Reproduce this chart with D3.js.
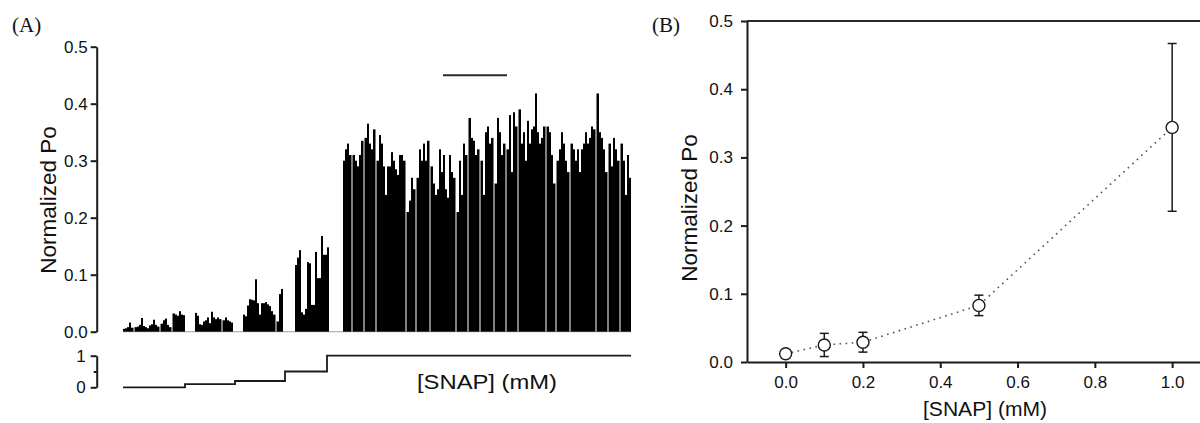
<!DOCTYPE html>
<html>
<head>
<meta charset="utf-8">
<script src="https://cdn.jsdelivr.net/npm/d3@7"></script>
<style>
  html, body { margin: 0; padding: 0; background: #fff; }
  svg { display: block; }
  text { font-family: "Liberation Sans", Arial, sans-serif; fill: #111; }
  .panel-label { font-family: "Liberation Serif", "Times New Roman", serif; }
</style>
</head>
<body>
<svg id="chart" width="1200" height="423"></svg>
<script>
// ---------------- DATA ----------------
// Panel A: normalized Po per time bin (null = gap between sweeps / recordings)
const poTrace = [
  // 0 mM SNAP
  0.005,0.006,0.008,0.016,0.007,null, 0.008,0.009,0.012,0.024,0.010,0.008,
  0.006,0.011,0.013,0.021,0.012,0.009, null,0.014,0.020,0.023,0.012,0.008,
  null,0.032,0.030,0.028,0.036,0.030,0.029,
  null,null,null,null,null,
  // 0.1 mM
  0.033,0.028,0.013,0.012,0.018,0.020,0.025,0.015,0.035,0.025,0.022,0.025,0.022,null,0.020,0.025,0.020,0.018,0.016,
  null,null,null,null,null,
  // 0.2 mM
  0.030,0.027,0.046,0.057,0.056,0.055,0.092,0.050,0.030,0.050,0.050,0.052,0.048,0.045,0.036,0.030,null,0.018,0.066,0.075,
  null,null,null,null,null,null,
  // 0.5 mM
  0.117,0.130,0.143,0.034,0.030,0.040,0.122,0.120,0.047,0.047,0.140,0.094,0.094,0.168,0.135,0.135,0.148,
  null,null,null,null,null,null,null,
  // 1.0 mM
  0.30,0.32,0.33,0.31, null,
  0.31,0.30,0.29,0.31,0.335, null,
  0.34,0.365,0.33,0.32,0.355, null,
  0.30,0.345,0.33,0.29,0.24,0.29,0.29,0.315,0.30,0.285,0.275,0.31,0.31,0.30, null,
  0.21,0.23,0.27,0.25, null,
  0.27,0.32,0.30,0.33,0.30,0.335, null,
  0.29,0.26,0.24,0.25,0.32,0.28,0.31,0.25,0.235,0.31,0.28,0.27, null,
  0.21,0.30,0.24,0.33,0.31, null,
  0.375,0.34,0.335,0.31,0.32, null,
  0.30,0.24,0.35,0.36,0.33,0.34, null,
  0.26,0.375,0.35,0.31,0.33, null,
  0.32,0.38,0.28,0.385,0.36, null,
  0.39,0.33,0.35,0.30,0.37,0.33,0.355,0.36,0.418,0.35,0.33,0.34,0.36, null,
  0.36,0.35,0.31,0.26, null,
  0.30,0.32,0.35,0.33,0.30,0.28, null,
  0.33,0.32,0.30,0.32,0.28,0.32,0.33,0.35,0.33,0.34,0.36,0.355, null,
  0.418,0.35,0.34,0.32,0.28, null,
  0.33,0.29,0.34,0.32,0.30, null,
  0.33,0.30,0.24,0.31,0.27
];
// SNAP concentration protocol (bin where each concentration starts)
const snapStepBins = [0, 31, 56, 81, 102, 254];
const snapStepConc = [0, 0.1, 0.2, 0.5, 1.0, 1.0];
// annotation bar above the trace (bin span, level)
const markerSpan = [160, 192];
const markerLevel = 0.45;
const yTicksA = [0, 0.1, 0.2, 0.3, 0.4, 0.5];
const stepTicks = [0, 0.5, 1];
const stepTickLabels = ["0", "", "1"];

// Panel B: dose-response
const concB = [0.0, 0.1, 0.2, 0.5, 1.0];
const meanB = [0.012, 0.025, 0.029, 0.083, 0.344];
const errB  = [0.006, 0.017, 0.0145, 0.015, 0.123];
const xTicksB = [0, 0.2, 0.4, 0.6, 0.8, 1.0];
const yTicksB = [0, 0.1, 0.2, 0.3, 0.4, 0.5];

// ---------------- DRAW ----------------
const svg = d3.select("#chart");
const axisColor = "#1a1a1a";

function styleAxis(g, width) {
  g.selectAll("path.domain").attr("stroke", axisColor).attr("stroke-width", width);
  g.selectAll(".tick line").attr("stroke", axisColor).attr("stroke-width", width);
  g.selectAll(".tick text").attr("font-size", 17).attr("fill", "#111")
    .attr("font-family", "'Liberation Sans', Arial, sans-serif");
}

// ===== Panel A =====
const xA = d3.scaleLinear().domain([0, poTrace.length]).range([123, 631]);
const yA = d3.scaleLinear().domain([0, 0.5]).range([331.7, 46.7]);
const axAx = 96.7;

// baseline
svg.append("line")
  .attr("x1", xA(0)).attr("x2", xA(poTrace.length))
  .attr("y1", yA(0)).attr("y2", yA(0))
  .attr("stroke", "#b5b5b5").attr("stroke-width", 1.2);

// bars: a single-bin gap (sweep separator) is drawn as a thin sliver only
const isSingleGap = i => poTrace[i] === null && poTrace[i - 1] != null && poTrace[i + 1] != null;
svg.append("g").selectAll("rect")
  .data(poTrace.map((v, i) => ({v, i})).filter(d => d.v !== null))
  .join("rect")
  .attr("x", d => xA(d.i) - (isSingleGap(d.i - 1) ? 0.5 : 0))
  .attr("width", d => {
    let w = xA(d.i + 1) - xA(d.i);
    if (isSingleGap(d.i + 1)) w += 0.5;
    if (isSingleGap(d.i - 1)) w += 0.5;
    return w;
  })
  .attr("y", d => yA(d.v))
  .attr("height", d => yA(0) - yA(d.v))
  .attr("fill", "#000");

// y axis A
const gA = svg.append("g").attr("transform", `translate(${axAx},0)`)
  .call(d3.axisLeft(yA).tickValues(yTicksA).tickSize(6).tickSizeOuter(0).tickPadding(3)
        .tickFormat(d3.format(".1f")));
styleAxis(gA, 2);

// annotation marker
svg.append("line")
  .attr("x1", xA(markerSpan[0])).attr("x2", xA(markerSpan[1]))
  .attr("y1", yA(markerLevel)).attr("y2", yA(markerLevel))
  .attr("stroke", "#2a2a2a").attr("stroke-width", 2);

// protocol step trace
const yS = d3.scaleLinear().domain([0, 1]).range([387.3, 355.7]);
const stepPts = snapStepBins.map((b, i) => [b, snapStepConc[i]]);
svg.append("path")
  .datum(stepPts)
  .attr("fill", "none")
  .attr("stroke", "#1a1a1a")
  .attr("stroke-width", 1.8)
  .attr("d", d3.line().x(d => xA(d[0])).y(d => yS(d[1])).curve(d3.curveStepAfter));

const gS = svg.append("g").attr("transform", `translate(${axAx},0)`)
  .call(d3.axisLeft(yS).tickValues(stepTicks).tickSize(6).tickSizeOuter(0).tickPadding(5)
        .tickFormat((d, i) => stepTickLabels[i]));
styleAxis(gS, 2);
gS.selectAll(".tick line").filter(d => d === 0.5).attr("x2", -3);

svg.append("text")
  .attr("x", 417).attr("y", 389)
  .attr("font-size", 21)
  .attr("textLength", 140).attr("lengthAdjust", "spacingAndGlyphs")
  .text("[SNAP] (mM)");

svg.append("text")
  .attr("transform", `translate(55.7,200) rotate(-90)`)
  .attr("text-anchor", "middle")
  .attr("font-size", 22.5)
  .text("Normalized Po");

svg.append("text").attr("class", "panel-label")
  .attr("x", 12).attr("y", 32).attr("font-size", 21).text("(A)");

// ===== Panel B =====
const xB = d3.scaleLinear().domain([-0.1, 1.1]).range([747, 747 + 1.2 * 386.5]);
const yB = d3.scaleLinear().domain([0, 0.5]).range([362, 21]);

// frame (top + right)
svg.append("path")
  .attr("d", `M${xB(-0.1)},${yB(0.5)}H${xB(1.1)}V${yB(0)}`)
  .attr("fill", "none").attr("stroke", "#2a2a2a").attr("stroke-width", 2);

const gBx = svg.append("g").attr("transform", `translate(0,${yB(0)})`)
  .call(d3.axisBottom(xB).tickValues(xTicksB).tickSize(6).tickSizeOuter(0).tickPadding(8)
        .tickFormat(d3.format(".1f")));
styleAxis(gBx, 2);

const gBy = svg.append("g").attr("transform", `translate(${xB(-0.1)},0)`)
  .call(d3.axisLeft(yB).tickValues(yTicksB).tickSize(6).tickSizeOuter(0).tickPadding(8)
        .tickFormat(d3.format(".1f")));
styleAxis(gBy, 2);

// dotted connecting line
svg.append("path")
  .datum(concB.map((c, i) => [c, meanB[i]]))
  .attr("fill", "none")
  .attr("stroke", "#555")
  .attr("stroke-width", 1.6)
  .attr("stroke-dasharray", "1.6,4.5")
  .attr("d", d3.line().x(d => xB(d[0])).y(d => yB(d[1])));

// error bars
const eb = svg.append("g").attr("stroke", "#1a1a1a").attr("stroke-width", 1.5);
concB.forEach((c, i) => {
  const x = xB(c), y1 = yB(meanB[i] - errB[i]), y2 = yB(meanB[i] + errB[i]);
  eb.append("line").attr("x1", x).attr("x2", x).attr("y1", y1).attr("y2", y2);
  eb.append("line").attr("x1", x - 4.5).attr("x2", x + 4.5).attr("y1", y1).attr("y2", y1);
  eb.append("line").attr("x1", x - 4.5).attr("x2", x + 4.5).attr("y1", y2).attr("y2", y2);
});

// markers
svg.append("g").selectAll("circle")
  .data(concB.map((c, i) => [c, meanB[i]]))
  .join("circle")
  .attr("cx", d => xB(d[0])).attr("cy", d => yB(d[1]))
  .attr("r", 6)
  .attr("fill", "#fff").attr("stroke", "#1a1a1a").attr("stroke-width", 1.4);

svg.append("text")
  .attr("x", 985).attr("y", 416)
  .attr("text-anchor", "middle")
  .attr("font-size", 20)
  .attr("textLength", 124).attr("lengthAdjust", "spacingAndGlyphs")
  .text("[SNAP] (mM)");

svg.append("text")
  .attr("transform", `translate(697,208) rotate(-90)`)
  .attr("text-anchor", "middle")
  .attr("font-size", 22.5)
  .text("Normalized Po");

svg.append("text").attr("class", "panel-label")
  .attr("x", 652).attr("y", 32).attr("font-size", 21).text("(B)");
</script>
</body>
</html>
